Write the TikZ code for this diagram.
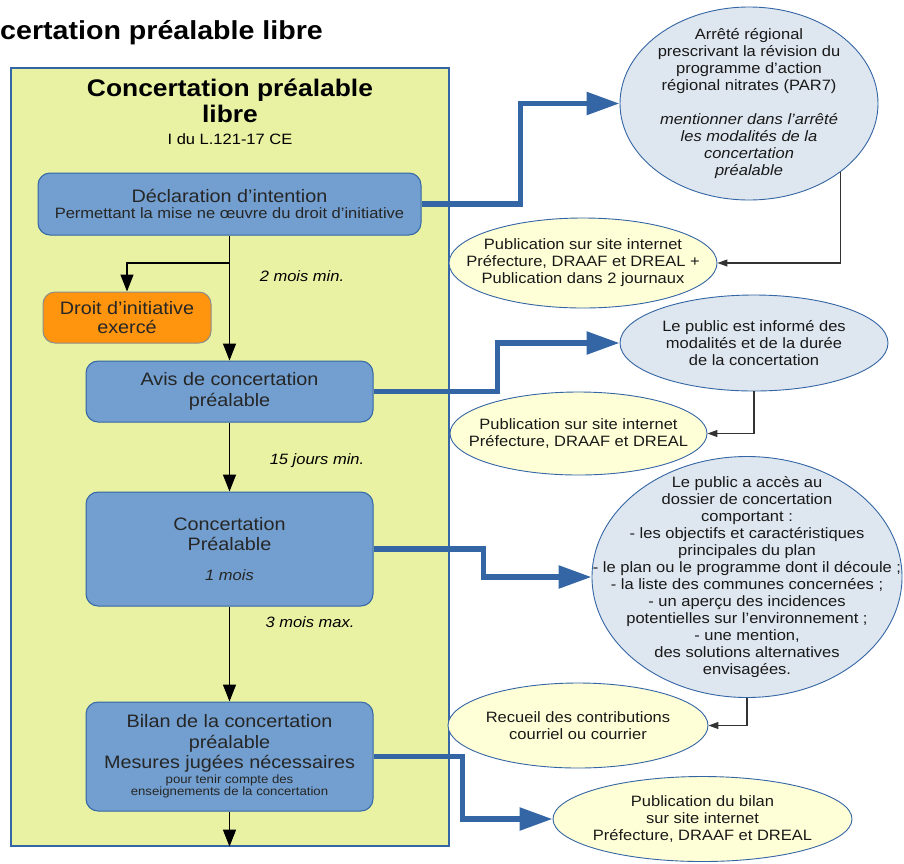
\documentclass[tikz,border=0pt]{standalone}
\usepackage{fontspec}
\setmainfont{Liberation Sans}[FakeStretch=1.1]
\usetikzlibrary{arrows.meta,shapes.geometric}
\definecolor{stepblue}{HTML}{729FCF}
\definecolor{edgeblue}{HTML}{3465A4}
\definecolor{panelgreen}{HTML}{E8F2A2}
\definecolor{initorange}{HTML}{FF950E}
\definecolor{infogrey}{HTML}{DEE6EF}
\definecolor{pubyellow}{HTML}{FFFFD7}
\newcommand\fsz[2]{\fontsize{#1}{#2}\selectfont}
\begin{document}
\begin{tikzpicture}[x=1pt,y=-1pt,
stepbox/.style={draw=edgeblue,line width=1pt,fill=stepblue,rounded corners=12pt,align=center,text=black!85,inner sep=0pt,font=\fsz{18}{20.5}},
initbox/.style={stepbox,fill=initorange,draw=black!45},
infoell/.style={ellipse,draw=edgeblue,line width=0.9pt,fill=infogrey,inner sep=0pt},
pubell/.style={infoell,fill=pubyellow},
elltext/.style={align=center,font=\fsz{15}{17},inner sep=0pt,text=black!90},
note/.style={font=\itshape\fsz{15}{17},anchor=base},
flow/.style={-{Triangle[length=17pt,width=13pt]},line width=1.4pt},
bigflow/.style={-{Triangle[length=33pt,width=22pt]},line width=5.5pt,draw=edgeblue},
smallflow/.style={-{Triangle[length=10pt,width=7pt]},line width=1.2pt,draw=black!80}]
\useasboundingbox (0,0) rectangle (904,863);
\node[anchor=base west,inner sep=0pt,font=\bfseries\fsz{26}{30}] (title) at (0,39) {certation préalable libre};
\node[draw=edgeblue,line width=1.2pt,fill=panelgreen,minimum width=438,minimum height=778,inner sep=0pt] (panel) at (230,457) {};
\node[align=center,font=\bfseries\fsz{24}{26}] (head) at (230,101) {Concertation préalable\\libre};
\node[anchor=base,font=\fsz{15}{17}] (ref) at (230,144) {I du L.121-17 CE};

\node[stepbox,minimum width=383,minimum height=62,font=\fsz{18}{16}] (decl) at (229.5,204) {Déclaration d'intention\\{\fsz{15}{16}Permettant la mise ne œuvre du droit d'initiative}};
\node[initbox,minimum width=168,minimum height=51,font=\fsz{18}{19.5}] (droit) at (127,317.5) {Droit d'initiative\\exercé};
\node[stepbox,minimum width=287,minimum height=61,font=\fsz{18}{21}] (avis) at (229.5,391.5) {Avis de concertation\\préalable};
\node[stepbox,minimum width=287,minimum height=114,font=\fsz{18}{20}] (concert) at (229.5,549) {Concertation\\Préalable\\[10pt]{\itshape\fsz{15}{17}1 mois}};
\node[stepbox,minimum width=287,minimum height=109] (bilan) at (229.5,756.5) {Bilan de la concertation\\préalable\\Mesures jugées nécessaires\\[-5.5pt]{\fsz{12}{13}pour tenir compte des}\\[-8.5pt]{\fsz{12}{13}enseignements de la concertation}};
\node[note] (wait1) at (302,281) {2 mois min.};
\node[note] (wait2) at (317,464) {15 jours min.};
\node[note] (wait3) at (310,627) {3 mois max.};

\node[infoell,minimum width=258,minimum height=193,label={[elltext]center:{Arrêté régional\\prescrivant la révision du\\programme d'action\\régional nitrates (PAR7)\\[17pt]{\itshape mentionner dans l'arrêté}\\{\itshape les modalités de la}\\{\itshape concertation}\\{\itshape préalable}}}] (arrete) at (749,103.5) {};
\node[pubell,minimum width=268,minimum height=90,label={[elltext]center:{Publication sur site internet\\Préfecture, DRAAF et DREAL +\\Publication dans 2 journaux}}] (pub1) at (583,263) {};
\node[infoell,minimum width=268,minimum height=96,label={[elltext]center:{Le public est informé des\\modalités et de la durée\\de la concertation}}] (inform) at (754,343) {};
\node[pubell,minimum width=257,minimum height=83,label={[elltext]center:{Publication sur site internet\\Préfecture, DRAAF et DREAL}}] (pub2) at (578.5,433.5) {};
\node[infoell,minimum width=310,minimum height=241,label={[elltext]center:{Le public a accès au\\dossier de concertation\\comportant :\\- les objectifs et caractéristiques\\principales du plan\\- le plan ou le programme dont il découle ;\\- la liste des communes concernées ;\\- un aperçu des incidences\\potentielles sur l'environnement ;\\- une mention,\\des solutions alternatives\\envisagées.}}] (dossier) at (747,577) {};
\node[pubell,minimum width=260,minimum height=85,label={[elltext]center:{Recueil des contributions\\courriel ou courrier}}] (pub3) at (578,725.5) {};
\node[pubell,minimum width=299,minimum height=85,label={[elltext]center:{Publication du bilan\\sur site internet\\Préfecture, DRAAF et DREAL}}] (pub4) at (702.5,819) {};

\coordinate (split) at (decl.south |- 0,263);
\foreach \a/\b in {decl/avis,avis/concert,concert/bilan} \draw[flow] (\a.south) -- (\b.north);
\draw[flow] (split) -| (droit.north);
\draw[flow] (bilan.south) -- (bilan.south |- panel.south);
\foreach \a/\b/\d in {decl/arrete/99,avis/inform/124,concert/dossier/110,bilan/pub4/89} \draw[bigflow] (\a.east) -- ++(\d,0) |- (\b.west);
\foreach \a/\b in {arrete.-37/pub1,inform.south/pub2,dossier.south/pub3} \draw[smallflow] (\a) |- (\b.east);
\end{tikzpicture}
\end{document}
